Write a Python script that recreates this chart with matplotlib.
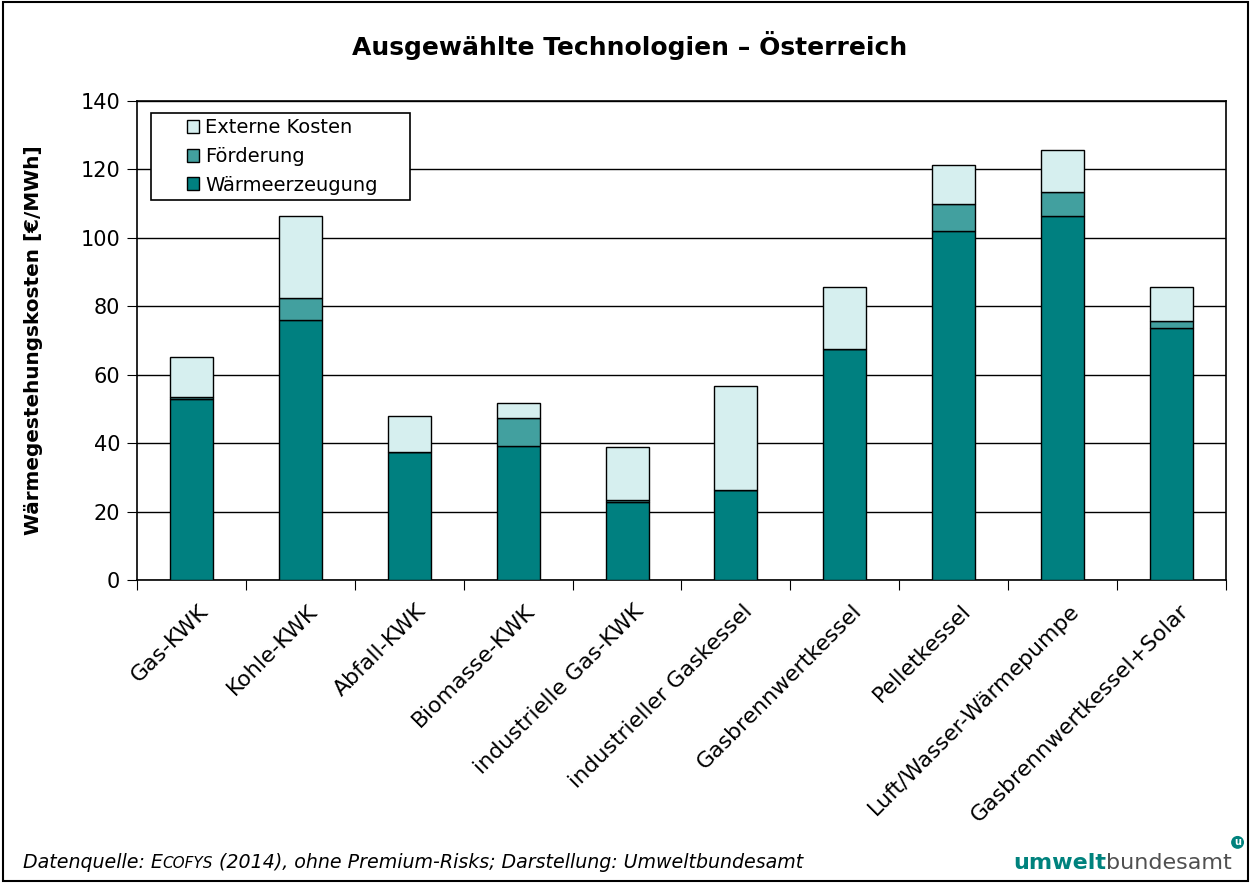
import matplotlib
matplotlib.use("Agg")
import matplotlib.pyplot as plt
import numpy as np
from matplotlib.patches import Rectangle

plt.rcParams['font.family'] = ['DejaVu Sans']

# data
kategorien = ["Gas-KWK", "Kohle-KWK", "Abfall-KWK", "Biomasse-KWK",
              "industrielle Gas-KWK", "industrieller Gaskessel",
              "Gasbrennwertkessel", "Pelletkessel",
              "Luft/Wasser-Wärmepumpe", "Gasbrennwertkessel+Solar"]
waermeerzeugung = [52.8, 76.0, 37.4, 39.2, 22.7, 26.3, 67.4, 102.0, 106.3, 73.8]
foerderung = [0.7, 6.3, 0.0, 8.2, 0.7, 0.0, 0.0, 8.0, 7.0, 1.8]
externe_kosten = [11.7, 24.0, 10.4, 4.2, 15.4, 30.4, 18.1, 11.2, 12.5, 9.9]

c_base = "#008080"
c_foerd = "#42A09F"
c_ext = "#D6EFEF"
c_logo = "#00827D"

fig = plt.figure(figsize=(12.51, 8.83), dpi=100)
ax = fig.add_axes([0.1095, 0.3431, 0.8705, 0.5425])

x = np.arange(len(kategorien))
w = 0.395
base = np.array(waermeerzeugung)
fo = np.array(foerderung)
ex = np.array(externe_kosten)

ax.bar(x, base, w, color=c_base, edgecolor="black", linewidth=1, label="Wärmeerzeugung", zorder=3)
ax.bar(x, fo, w, bottom=base, color=c_foerd, edgecolor="black", linewidth=1, label="Förderung", zorder=3)
ax.bar(x, ex, w, bottom=base + fo, color=c_ext, edgecolor="black", linewidth=1, label="Externe Kosten", zorder=3)

ax.set_xlim(-0.5, len(kategorien) - 0.5)
ax.set_ylim(0, 140)
ax.set_yticks(np.arange(0, 141, 20))
ax.yaxis.grid(True, color="black", linewidth=1)
ax.set_axisbelow(True)
for s in ax.spines.values():
    s.set_linewidth(1.2)

# ticks between categories, labels centred
ax.set_xticks(np.arange(-0.5, len(kategorien) - 0.4, 1))
ax.set_xticklabels([])
ax.set_xticks(x + 0.06, minor=True)
ax.set_xticklabels(kategorien, minor=True, rotation=45, ha="right", va="top",
                   rotation_mode="anchor", fontsize=15.8)
ax.tick_params(axis="x", which="minor", length=0, pad=15)
ax.tick_params(axis="x", which="major", length=7, direction="out")
ax.tick_params(axis="y", length=7, direction="out", labelsize=15, pad=5)

ax.set_ylabel("Wärmegestehungskosten [€/MWh]", fontsize=14.4, fontweight="bold")
ax.yaxis.set_label_coords(-0.0863, 0.5)

# legend: box drawn separately so the padding matches
ax.add_patch(Rectangle((0.0129, 0.793), 0.2378, 0.182, transform=ax.transAxes,
                       fc="white", ec="black", lw=1.2, zorder=4))
h, l = ax.get_legend_handles_labels()
leg = ax.legend(h[::-1], l[::-1], loc="center left", bbox_to_anchor=(0.0455, 0.884),
                fontsize=14, frameon=False,
                handlelength=0.65, handleheight=0.65, handletextpad=0.3,
                labelspacing=0.5, borderpad=0, borderaxespad=0)
leg.set_zorder(5)

fig.text(0.503, 0.949, "Ausgewählte Technologien – Österreich", ha="center", va="center",
         fontsize=18, fontweight="bold")

# figure border
fig.patches.append(Rectangle((0.002, 0.002), 0.996, 0.996, transform=fig.transFigure,
                             fill=False, edgecolor="black", linewidth=1.5))

# footer with small caps ECOFYS
fig.canvas.draw()
r = fig.canvas.get_renderer()
xpos = 0.018
ypos = 0.017
for txt, fs in [("Datenquelle: E", 13.7), ("COFYS", 11), (" (2014), ohne Premium-Risks; Darstellung: Umweltbundesamt", 13.7)]:
    t = fig.text(xpos, ypos, txt, fontsize=fs, style="italic", ha="left", va="baseline")
    bb = t.get_window_extent(renderer=r)
    xpos += bb.width / fig.bbox.width

# logo text
t1 = fig.text(0.810, 0.016, "umwelt", fontsize=16, fontweight="bold", color=c_logo,
              ha="left", va="baseline")
bb = t1.get_window_extent(renderer=r)
t2 = fig.text(0.810 + bb.width / fig.bbox.width, 0.016, "bundesamt", fontsize=16,
              color="#505050", ha="left", va="baseline")
bb2 = t2.get_window_extent(renderer=r)
fig.text((bb2.x1 + 2) / fig.bbox.width, 0.046, "u", fontsize=7, fontweight="bold",
         color="white", ha="left", va="center",
         bbox=dict(boxstyle="circle,pad=0.15", fc=c_logo, ec="none"))

fig.savefig("out.png", dpi=100)
